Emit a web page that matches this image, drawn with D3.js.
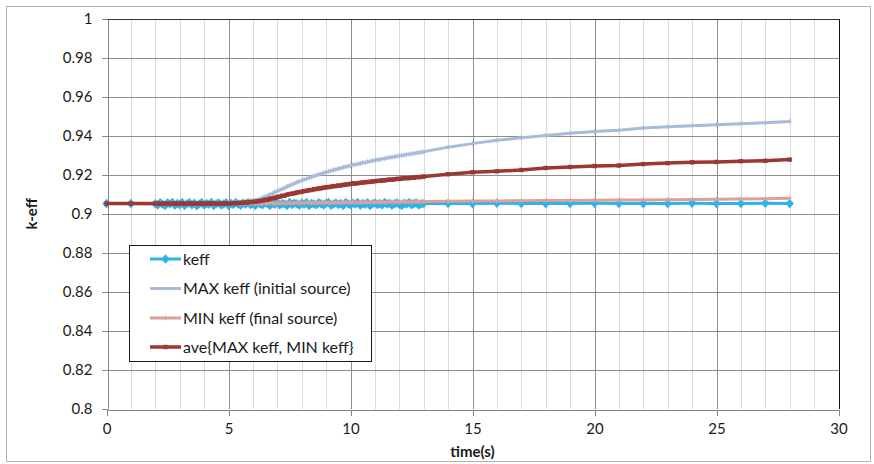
<!DOCTYPE html>
<html><head><meta charset="utf-8">
<script src="https://cdn.jsdelivr.net/npm/d3@7"></script>
<style>
html,body{margin:0;padding:0;background:#fff;}
text{font-family:Lato,"Open Sans",sans-serif;fill:#1a1a1a;}
</style></head>
<body>
<svg id="chart" width="874" height="464"></svg>
<script>
// ---------------- DATA ----------------
const seriesNames = ["keff", "MAX keff (initial source)", "MIN keff (final source)", "ave{MAX keff, MIN keff}"];
const xTicks = [0, 5, 10, 15, 20, 25, 30];
const yTicks = [0.8, 0.82, 0.84, 0.86, 0.88, 0.9, 0.92, 0.94, 0.96, 0.98, 1];
const yTickLabels = ["0.8", "0.82", "0.84", "0.86", "0.88", "0.9", "0.92", "0.94", "0.96", "0.98", "1"];
const xTickLabels = ["0", "5", "10", "15", "20", "25", "30"];

// time points: 0, 1, then 2.0..13.0 every 0.1 s, then 14..28
const timeStart = [0, 1];
const timeDense = d3.range(0, 111).map(i => +(2 + i * 0.1).toFixed(1));
const timeLate = [14, 15, 16, 17, 18, 19, 20, 21, 22, 23, 24, 25, 26, 27, 28];

const keffStart = [0.9052, 0.9052];
const keffDense = [
 0.9051,0.9045,0.9056,0.9049,0.9042,0.9055,0.9050,0.9058,0.9044,0.9052,
 0.9047,0.9057,0.9043,0.9051,0.9056,0.9046,0.9054,0.9041,0.9050,0.9057,
 0.9045,0.9052,0.9049,0.9058,0.9043,0.9051,0.9055,0.9045,0.9050,0.9056,
 0.9042,0.9052,0.9048,0.9057,0.9050,0.9044,0.9055,0.9049,0.9058,0.9046,
 0.9052,0.9043,0.9056,0.9050,0.9046,0.9057,0.9051,0.9042,0.9054,0.9049,
 0.9057,0.9045,0.9052,0.9050,0.9043,0.9058,0.9048,0.9054,0.9051,0.9044,
 0.9055,0.9049,0.9057,0.9042,0.9052,0.9050,0.9046,0.9056,0.9051,0.9045,
 0.9054,0.9058,0.9044,0.9050,0.9055,0.9048,0.9052,0.9043,0.9057,0.9051,
 0.9046,0.9054,0.9050,0.9057,0.9044,0.9052,0.9049,0.9056,0.9042,0.9051,
 0.9055,0.9048,0.9052,0.9045,0.9058,0.9050,0.9054,0.9044,0.9051,0.9056,
 0.9049,0.9043,0.9054,0.9050,0.9057,0.9046,0.9052,0.9055,0.9045,0.9051,
 0.9053];
const keffLate = [0.9053,0.9052,0.9054,0.9053,0.9052,0.9053,0.9054,0.9053,0.9052,0.9053,0.9054,0.9053,0.9053,0.9054,0.9053];

const maxStart = [0.9052, 0.9052];
const maxDense = [
 0.9052,0.9054,0.9051,0.9053,0.9055,0.9052,0.9050,0.9054,0.9053,0.9051,
 0.9053,0.9055,0.9052,0.9050,0.9054,0.9053,0.9051,0.9055,0.9052,0.9054,
 0.9051,0.9053,0.9055,0.9052,0.9054,0.9050,0.9053,0.9055,0.9052,0.9054,
 0.9053,0.9054,0.9055,0.9056,0.9058,0.9059,0.9061,0.9063,0.9064,0.9066,
 0.9068,0.9070,0.9073,0.9076,0.9082,0.9088,0.9092,0.9099,0.9103,0.9111,
 0.9117,0.9121,0.9128,0.9132,0.9140,0.9144,0.9151,0.9155,0.9161,0.9166,
 0.9170,0.9176,0.9179,0.9185,0.9188,0.9194,0.9197,0.9202,0.9205,0.9210,
 0.9213,0.9218,0.9220,0.9225,0.9227,0.9232,0.9234,0.9238,0.9241,0.9244,
 0.9247,0.9251,0.9252,0.9256,0.9258,0.9262,0.9263,0.9267,0.9269,0.9272,
 0.9274,0.9277,0.9278,0.9282,0.9283,0.9287,0.9288,0.9291,0.9293,0.9296,
 0.9297,0.9300,0.9301,0.9304,0.9305,0.9308,0.9309,0.9312,0.9314,0.9316,
 0.9318];
const maxLate = [0.9342,0.9360,0.9377,0.9390,0.9402,0.9413,0.9422,0.9429,0.9440,0.9447,0.9452,0.9457,0.9462,0.9467,0.9474];

const minStart = [0.9052, 0.9052];
const minDense = [
 0.9051,0.9052,0.9050,0.9052,0.9051,0.9053,0.9051,0.9050,0.9052,0.9051,
 0.9052,0.9050,0.9051,0.9053,0.9051,0.9052,0.9050,0.9052,0.9051,0.9053,
 0.9051,0.9052,0.9050,0.9051,0.9053,0.9051,0.9052,0.9050,0.9052,0.9051,
 0.9052,0.9051,0.9053,0.9050,0.9052,0.9051,0.9053,0.9052,0.9051,0.9053,
 0.9054,0.9052,0.9053,0.9055,0.9053,0.9054,0.9052,0.9055,0.9054,0.9053,
 0.9055,0.9054,0.9056,0.9054,0.9055,0.9057,0.9055,0.9054,0.9056,0.9055,
 0.9056,0.9055,0.9057,0.9056,0.9055,0.9057,0.9056,0.9058,0.9056,0.9057,
 0.9058,0.9056,0.9057,0.9059,0.9057,0.9058,0.9056,0.9058,0.9059,0.9057,
 0.9058,0.9060,0.9058,0.9057,0.9059,0.9058,0.9060,0.9059,0.9058,0.9060,
 0.9059,0.9061,0.9059,0.9060,0.9058,0.9060,0.9061,0.9059,0.9060,0.9062,
 0.9060,0.9061,0.9063,0.9061,0.9060,0.9062,0.9061,0.9063,0.9062,0.9061,
 0.9063];
const minLate = [0.9064,0.9065,0.9066,0.9067,0.9068,0.9068,0.9069,0.9070,0.9071,0.9072,0.9073,0.9074,0.9076,0.9077,0.9080];

const aveStart = [0.9052, 0.9052];
const aveDense = [
 0.9052,0.9053,0.9051,0.9052,0.9053,0.9052,0.9051,0.9052,0.9053,0.9051,
 0.9052,0.9053,0.9051,0.9052,0.9053,0.9052,0.9051,0.9053,0.9052,0.9053,
 0.9051,0.9052,0.9053,0.9052,0.9053,0.9051,0.9052,0.9053,0.9052,0.9053,
 0.9052,0.9053,0.9054,0.9054,0.9055,0.9056,0.9057,0.9058,0.9058,0.9060,
 0.9061,0.9062,0.9064,0.9066,0.9068,0.9071,0.9072,0.9077,0.9079,0.9082,
 0.9086,0.9088,0.9092,0.9093,0.9098,0.9101,0.9103,0.9105,0.9109,0.9111,
 0.9113,0.9116,0.9118,0.9121,0.9122,0.9126,0.9127,0.9130,0.9131,0.9134,
 0.9136,0.9137,0.9139,0.9142,0.9142,0.9145,0.9145,0.9148,0.9150,0.9151,
 0.9153,0.9156,0.9155,0.9157,0.9159,0.9160,0.9162,0.9163,0.9164,0.9166,
 0.9167,0.9169,0.9169,0.9171,0.9171,0.9174,0.9175,0.9175,0.9177,0.9179,
 0.9179,0.9181,0.9182,0.9183,0.9183,0.9185,0.9185,0.9188,0.9188,0.9189,
 0.9191];
const aveLate = [0.9203,0.9213,0.9218,0.9225,0.9235,0.9240,0.9245,0.9248,0.9255,0.9260,0.9264,0.9266,0.9270,0.9272,0.9278];

// ---------------- BUILD ----------------
const times = timeStart.concat(timeDense, timeLate);
const valueSets = [
  keffStart.concat(keffDense, keffLate),
  maxStart.concat(maxDense, maxLate),
  minStart.concat(minDense, minLate),
  aveStart.concat(aveDense, aveLate)
];
const colors = ["#2bb3ea", "#a8bbd9", "#d9a09e", "#993835"];
const widths = [3, 3, 3, 3.5];

const svg = d3.select("#chart");
const x = d3.scaleLinear().domain([0, 30]).range([106.5, 838.5]);
const y = d3.scaleLinear().domain([0.8, 1]).range([408.5, 19]);

// outer border
svg.append("rect").attr("x", 6.5).attr("y", 6.5).attr("width", 864).attr("height", 455)
  .attr("fill", "#fff").attr("stroke", "#b4b4b4").attr("stroke-width", 1);

const grid = svg.append("g").attr("shape-rendering", "crispEdges");
grid.selectAll(".vminor").data(d3.range(1, 30).filter(d => d % 5 !== 0)).join("line")
  .attr("x1", d => Math.round(x(d)) + 0.5).attr("x2", d => Math.round(x(d)) + 0.5)
  .attr("y1", y(1)).attr("y2", y(0.8)).attr("stroke", "#d9d9d9").attr("stroke-width", 1);
grid.selectAll(".vmajor").data([5, 10, 15, 20, 25]).join("line")
  .attr("x1", d => Math.round(x(d)) + 0.5).attr("x2", d => Math.round(x(d)) + 0.5)
  .attr("y1", y(1)).attr("y2", y(0.8)).attr("stroke", "#8c8c8c").attr("stroke-width", 1);
grid.selectAll(".hmajor").data(yTicks.slice(1, -1)).join("line")
  .attr("x1", x(0)).attr("x2", x(30))
  .attr("y1", d => Math.round(y(d)) + 0.5).attr("y2", d => Math.round(y(d)) + 0.5)
  .attr("stroke", "#8c8c8c").attr("stroke-width", 1);
grid.append("line").attr("x1", x(0)).attr("x2", x(30) + 1).attr("y1", Math.round(y(1)) + 0.5).attr("y2", Math.round(y(1)) + 0.5)
  .attr("stroke", "#333").attr("stroke-width", 1);
grid.append("line").attr("x1", Math.round(x(30)) + 0.5).attr("x2", Math.round(x(30)) + 0.5).attr("y1", y(1)).attr("y2", y(0.8))
  .attr("stroke", "#111").attr("stroke-width", 1.5);

// axes
const yAxis = d3.axisLeft(y).tickValues(yTicks).tickSize(6).tickSizeOuter(0)
  .tickFormat((d, i) => yTickLabels[i]).tickPadding(9);
const gy = svg.append("g").attr("transform", `translate(${Math.round(x(0)) + 0.5},0)`).call(yAxis);
gy.select(".domain").attr("stroke", "#868686").attr("shape-rendering", "crispEdges");
gy.selectAll(".tick line").attr("stroke", "#868686").attr("shape-rendering", "crispEdges");
gy.selectAll(".tick text").attr("font-size", 15).attr("font-family", "Lato, sans-serif").attr("fill", "#1a1a1a");

const xAxis = d3.axisBottom(x).tickValues(xTicks).tickSize(6).tickSizeOuter(0)
  .tickFormat((d, i) => xTickLabels[i]).tickPadding(8);
const gx = svg.append("g").attr("transform", `translate(0,${Math.round(y(0.8)) + 0.5})`).call(xAxis);
gx.select(".domain").attr("stroke", "#868686").attr("shape-rendering", "crispEdges");
gx.selectAll(".tick line").attr("stroke", "#868686").attr("shape-rendering", "crispEdges");
gx.selectAll(".tick text").attr("font-size", 15).attr("font-family", "Lato, sans-serif").attr("fill", "#1a1a1a");

// axis titles
svg.append("text").attr("transform", `translate(37,${y(0.9)}) rotate(-90)`)
  .attr("text-anchor", "middle").attr("font-size", 15).attr("font-weight", "bold").text("k-eff");
svg.append("text").attr("x", (x(0) + x(30)) / 2).attr("y", 457)
  .attr("text-anchor", "middle").attr("font-size", 15).attr("font-weight", "bold").text("time(s)");

// series
const line = d3.line().x(d => x(d[0])).y(d => y(d[1]));
const diamond = "M0,-4.8L4.2,0L0,4.8L-4.2,0Z";
const plots = svg.append("g");
valueSets.forEach((vals, si) => {
  const pts = times.map((t, i) => [t, vals[i]]);
  const g = plots.append("g");
  g.append("path").datum(pts).attr("d", line).attr("fill", "none")
    .attr("stroke", colors[si]).attr("stroke-width", widths[si]).attr("stroke-linejoin", "round");
  if (si === 0) {
    g.selectAll("path.m").data(pts).join("path").attr("class", "m")
      .attr("transform", d => `translate(${x(d[0])},${y(d[1])})`).attr("d", diamond).attr("fill", colors[0]);
  } else if (si === 3) {
    g.selectAll("rect.m").data(pts).join("rect").attr("class", "m")
      .attr("x", d => x(d[0]) - 2.2).attr("y", d => y(d[1]) - 2.2).attr("width", 4.4).attr("height", 4.4)
      .attr("fill", colors[3]);
  } else {
    g.selectAll("path.m").data(pts).join("path").attr("class", "m")
      .attr("transform", d => `translate(${x(d[0])},${y(d[1])})`).attr("d", "M-2.5,0H2.5M0,-2.5V2.5")
      .attr("stroke", colors[si]).attr("stroke-width", 1).attr("fill", "none");
  }
});

// legend
const lg = svg.append("g");
lg.append("rect").attr("x", 129.5).attr("y", 245.5).attr("width", 242).attr("height", 116)
  .attr("fill", "#fff").attr("stroke", "#1a1a1a").attr("stroke-width", 1);
const rowY = [259, 288.5, 318, 347];
seriesNames.forEach((name, i) => {
  const yy = rowY[i];
  lg.append("line").attr("x1", 150).attr("x2", 181).attr("y1", yy).attr("y2", yy)
    .attr("stroke", colors[i]).attr("stroke-width", widths[i]);
  if (i === 0) lg.append("path").attr("transform", `translate(165.5,${yy})`).attr("d", diamond).attr("fill", colors[0]);
  if (i === 2) lg.append("path").attr("transform", `translate(165.5,${yy})`).attr("d", "M-2.5,0H2.5M0,-2.5V2.5")
    .attr("stroke", colors[2]).attr("stroke-width", 1);
  if (i === 3) lg.append("rect").attr("x", 163.3).attr("y", yy - 2.2).attr("width", 4.4).attr("height", 4.4).attr("fill", colors[3]);
  lg.append("text").attr("x", 183).attr("y", yy + 5.5).attr("font-size", 16).text(name);
});
</script>
</body></html>
